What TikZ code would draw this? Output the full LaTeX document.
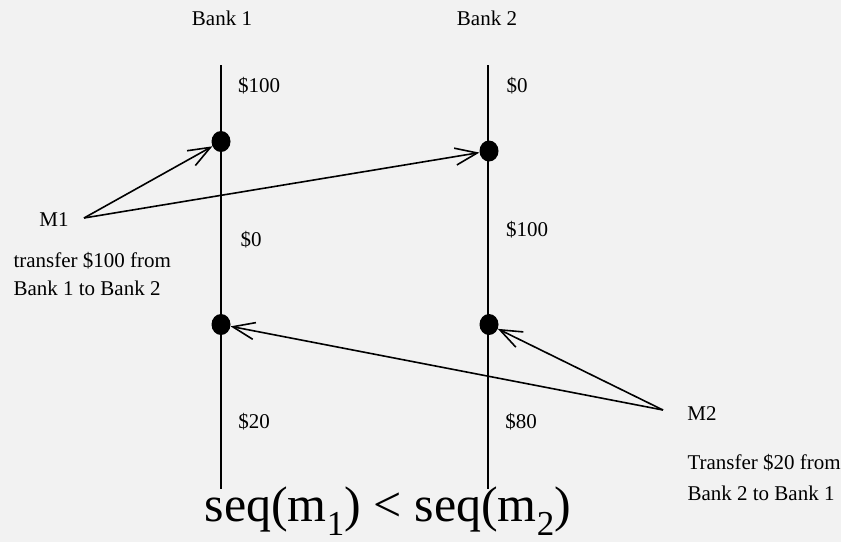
\documentclass[tikz,border=0pt]{standalone}
\usepackage{fontspec}
\setmainfont{Liberation Serif}
\usetikzlibrary{arrows.meta, shapes.geometric}

\begin{document}
\begin{tikzpicture}[x=1pt, y=-1pt,
    lbl/.style={font=\fontsize{21}{28}\selectfont},
    evt/.style={ellipse, fill=black, inner sep=0pt, minimum width=19pt, minimum height=21pt},
    msg/.style={line width=1.6pt, -{Straight Barb[length=22pt, width=17pt, line width=1.6pt]}},
    bankline/.style={line width=1.4pt}]
      % 0. background
      \fill[black!5] (0,0) rectangle (841,542);
      \useasboundingbox (0,0) rectangle (841,542);

      % 1. the two banks and their time lines
      \node[lbl] (bank_1) at (222,18) {Bank 1};
      \node[lbl] (bank_2) at (487,18) {Bank 2};
      \coordinate (b1_top) at (221,65);
      \coordinate (b1_bot) at (221,489);
      \coordinate (b2_top) at (488,65);
      \coordinate (b2_bot) at (488,489);
      \draw[bankline] (b1_top) -- (b1_bot);
      \draw[bankline] (b2_top) -- (b2_bot);

      % 2. the events where the messages arrive
      \node[evt] (e_1) at (221,141.5) {};
      \node[evt] (e_2) at (489,151) {};
      \node[evt] (e_3) at (221,324.5) {};
      \node[evt] (e_4) at (489,324.5) {};

      % 3. balances
      \node[lbl] (bal_11) at (259,86) {\$100};
      \node[lbl] (bal_21) at (517,86) {\$0};
      \node[lbl] (bal_12) at (251,240) {\$0};
      \node[lbl] (bal_22) at (527,230) {\$100};
      \node[lbl] (bal_13) at (254,422) {\$20};
      \node[lbl] (bal_23) at (521,422) {\$80};

      % 4. message M1
      \node[lbl] (m_1) at (54,220) {M1};
      \coordinate (m_1_src) at (84,218);
      \node[lbl, anchor=west, align=left] (m_1_txt) at (10,274) {transfer \$100 from\\Bank 1 to Bank 2};
      \draw[msg] (m_1_src) -- (e_1);
      \draw[msg] (m_1_src) -- (e_2);

      % 5. message M2
      \node[lbl] (m_2) at (702,414) {M2};
      \coordinate (m_2_src) at (663,410);
      \node[lbl, anchor=west, align=left, font=\fontsize{21}{31}\selectfont] (m_2_txt) at (684,477) {Transfer \$20 from\\Bank 2 to Bank 1};
      \draw[msg] (m_2_src) -- (e_3);
      \draw[msg] (m_2_src) -- (e_4);

      % 6. ordering
      \node[font=\fontsize{50}{60}\selectfont] (order) at (388,511) {seq(m\textsubscript{1}) < seq(m\textsubscript{2})};
\end{tikzpicture}
\end{document}
